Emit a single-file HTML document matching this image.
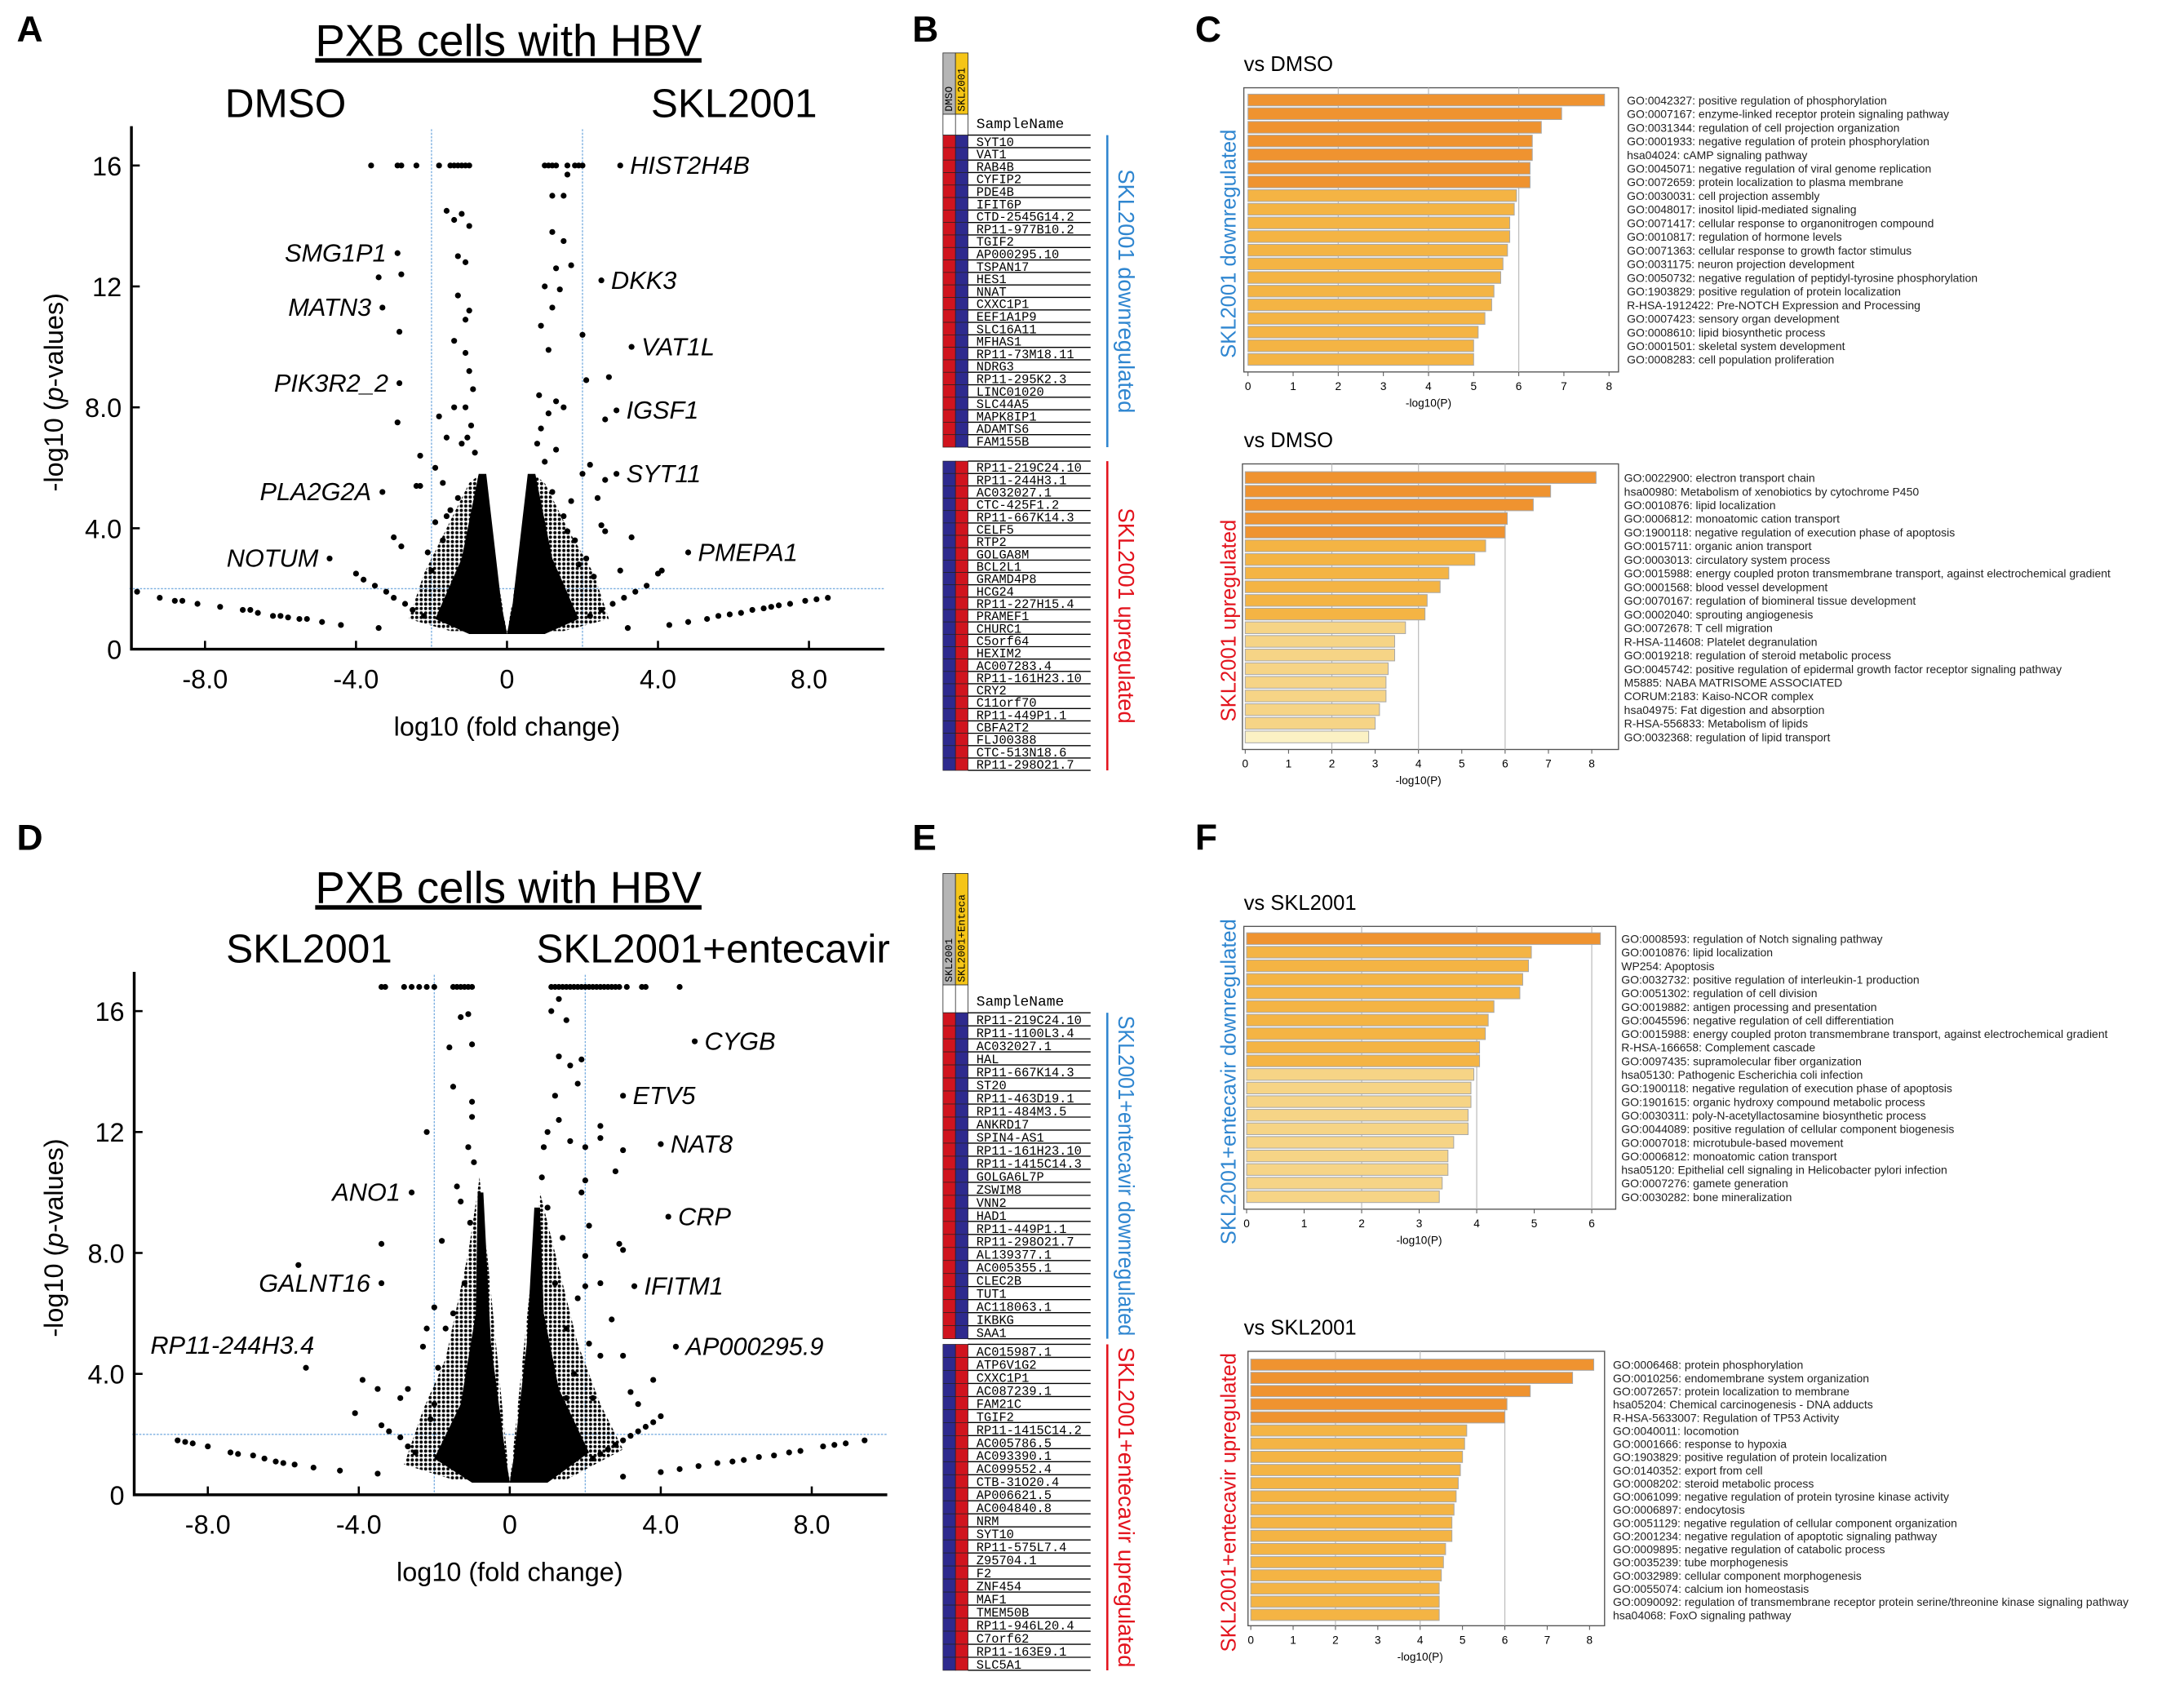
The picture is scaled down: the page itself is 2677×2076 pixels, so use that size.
<!DOCTYPE html>
<html><head><meta charset="utf-8"><style>
html,body{margin:0;padding:0;background:#fff}
svg{display:block}
text{font-family:"Liberation Sans",sans-serif}
.mono{font-family:"Liberation Mono",monospace}
</style></head><body>
<svg id="fig" width="2677" height="2076" viewBox="0 0 1568 1216" preserveAspectRatio="none" xmlns="http://www.w3.org/2000/svg">
<defs><pattern id="speck" width="3.2" height="3.2" patternUnits="userSpaceOnUse"><circle cx="1.6" cy="1.6" r="1.15" fill="#000"/></pattern></defs>
</svg>
<script>
// ---------- Volcano A data ----------
const aLabelNames=["HIST2H4B","SMG1P1","MATN3","PIK3R2_2","PLA2G2A","NOTUM","DKK3","VAT1L","IGSF1","SYT11","PMEPA1"];
const aLabelX=[3.0,-2.9,-3.3,-2.85,-3.3,-4.7,2.5,3.3,2.9,2.9,4.8];
const aLabelY=[16.0,13.1,11.3,8.8,5.2,3.0,12.2,10.0,7.9,5.8,3.2];
const aPtsX=[-3.6,-2.9,-2.8,-2.4,-1.8,-1.5,-1.4,-1.3,-1.2,-1.1,-1.0,1.0,1.1,1.2,1.3,1.6,1.8,1.9,2.0,
-3.4,-2.8,-2.85,-2.9,-2.3,-2.4,-2.3,-3.0,-2.8,-1.6,-1.2,-1.0,-1.4,-1.3,-1.1,-1.3,-1.0,-1.1,-1.4,-1.1,
1.2,1.5,1.6,1.2,1.5,1.7,1.3,1.0,1.4,1.2,0.9,1.1,2.0,2.1,2.7,2.6,1.5,1.3,-1.8,-1.4,-1.6,-1.9,-1.7,
2.2,2.0,2.6,2.4,2.5,2.6,3.3,3.0,3.2,
-9.8,-9.2,-8.8,-8.6,-8.2,-7.6,-7.0,-6.8,-6.6,-6.2,-6.0,-5.8,-5.5,-5.3,-4.9,-4.4,-3.4,
-4.0,-3.8,-3.5,-3.2,-3.0,-2.7,-2.5,-2.2,
4.3,4.8,5.3,5.6,5.9,6.2,6.5,6.8,7.0,7.2,7.5,7.9,8.2,8.5,
2.2,2.5,2.8,3.1,3.4,3.7,4.0,4.1,
-1.0,-0.9,-1.1,-0.95,-1.2,-1.5,-1.9,-2.1,-1.3,-1.7,-2.0,-1.6,-0.85,-1.05,
0.9,0.8,1.0,1.2,1.5,1.8,2.1,1.1,1.7,1.3,0.85,1.6,2.3,1.9];
const aPtsY=[16,16,16,16,16,16,16,16,16,16,16,16,16,16,16,16,16,16,16,
12.3,12.4,10.5,7.5,6.4,5.4,5.4,3.7,3.4,14.5,14.4,14.0,14.2,13.0,12.8,11.7,11.2,10.9,10.2,9.8,
15.0,15.0,15.7,13.8,13.5,12.7,12.6,12.0,11.9,11.3,10.7,9.9,10.4,8.9,9.0,7.6,8.0,8.2,7.7,8.0,7.0,6.0,5.5,
6.1,5.8,5.6,5.0,4.1,3.9,3.7,2.6,0.7,
1.9,1.7,1.6,1.6,1.5,1.4,1.3,1.3,1.2,1.1,1.1,1.05,1.0,1.0,0.9,0.8,0.7,
2.5,2.3,2.1,1.9,1.7,1.5,1.3,1.1,
0.8,0.9,1.0,1.1,1.15,1.2,1.3,1.35,1.4,1.45,1.5,1.6,1.65,1.7,
1.1,1.3,1.5,1.7,1.9,2.1,2.5,2.6,
9.2,8.6,8.0,7.4,6.8,4.6,4.2,3.2,5.0,3.6,2.6,4.4,6.5,7.0,
7.3,6.8,6.2,5.2,4.4,3.6,3.0,7.8,4.9,6.6,8.4,3.9,2.4,2.8];
const aCoreX=[-1.9,-1.2,-0.75,-0.55,-0.15,0,0.15,0.55,0.75,1.2,1.9,1.0,-1.0];
const aCoreY=[1.0,3.0,5.8,5.8,1.5,0.5,1.5,5.8,5.8,3.0,1.0,0.5,0.5];
const aHaloX=[-2.6,-2.2,-1.6,-1.0,-0.7,0,0.7,1.0,1.6,2.3,2.7,1.5,-1.5];
const aHaloY=[1.0,2.5,4.0,5.5,5.8,0.5,5.8,5.5,4.0,2.5,1.0,0.6,0.6];
// ---------- Volcano D data ----------
const dLabelNames=["CYGB","ETV5","NAT8","CRP","IFITM1","AP000295.9","ANO1","GALNT16","RP11-244H3.4"];
const dLabelX=[4.9,3.0,4.0,4.2,3.3,4.4,-2.6,-3.4,-5.4];
const dLabelY=[15.0,13.2,11.6,9.2,6.9,4.9,10.0,7.0,4.2];
const dTopX=[-3.4,-3.3,-2.8,-2.6,-2.4,-2.2,-2.0,-1.5,-1.4,-1.3,-1.2,-1.1,-1.0,1.1,1.2,1.3,1.4,1.5,1.6,1.7,1.8,1.9,2.0,2.1,2.2,2.3,2.4,2.5,2.6,2.7,2.8,2.9,3.1,3.5,3.6,4.5];
const dPtsX=[-2.2,-3.4,-5.6,-2.2,-2.0,-1.8,-1.6,-1.5,-1.3,-1.1,-1.0,-1.0,-1.0,-1.1,-1.4,-1.3,-2.3,-2.7,-2.9,
1.1,1.3,1.5,1.3,1.6,1.9,1.8,1.2,1.0,1.3,1.6,2.0,2.4,2.4,2.8,3.0,2.0,1.9,2.1,2.9,3.0,2.0,2.4,2.0,2.7,2.1,2.4,3.0,3.2,3.8,3.4,1.5,-2.1,
-8.8,-8.6,-8.4,-8.0,-7.4,-7.2,-6.8,-6.5,-6.2,-6.0,-5.7,-5.2,-4.5,-3.5,-4.1,-3.9,-3.5,-3.4,-3.2,-2.9,-2.7,-2.5,
3.0,4.0,4.5,5.0,5.5,5.9,6.2,6.6,7.0,7.4,7.7,8.3,8.6,8.9,9.4,
2.2,2.4,2.6,2.8,3.0,3.2,3.4,3.6,3.8,4.0,
-1.2,-1.7,-1.9,-1.5,-2.0,-0.95,-1.05,0.9,1.0,1.2,1.5,1.7,2.2,1.4,1.8,0.85];
const dPtsY=[12.0,8.3,7.6,5.5,6.2,8.4,14.8,13.5,15.8,15.9,14.9,13.0,12.5,11.5,10.2,9.7,4.9,3.5,3.2,
16.0,16.4,15.7,14.5,14.2,14.4,13.6,13.2,12.0,12.4,11.7,11.5,12.2,11.8,10.7,11.4,10.4,10.0,8.9,8.3,8.1,7.9,7.0,6.9,5.8,5.0,4.6,4.6,3.4,3.8,3.0,3.2,2.5,
1.8,1.75,1.7,1.6,1.4,1.35,1.3,1.2,1.1,1.05,1.0,0.9,0.8,0.7,2.7,3.8,3.5,2.3,2.1,1.9,1.6,1.4,
0.6,0.75,0.85,0.95,1.05,1.1,1.15,1.25,1.3,1.4,1.45,1.6,1.65,1.7,1.8,
1.2,1.35,1.5,1.65,1.8,1.95,2.1,2.25,2.4,2.6,
7.0,5.5,4.2,6.0,3.0,11.0,9.0,11.5,9.5,7.0,5.5,4.0,3.2,8.5,6.5,10.5];
const dCoreX=[-2.0,-1.3,-0.9,-0.85,-0.7,-0.5,-0.1,0,0.1,0.45,0.65,0.8,0.9,1.3,2.1,1.0,-1.0];
const dCoreY=[1.2,3.0,6.0,10.0,10.0,5.0,1.2,0.4,1.2,5.0,9.5,9.5,6.0,3.5,1.4,0.4,0.4];
const dHaloX=[-2.8,-2.3,-1.7,-1.1,-0.8,0,0.8,1.2,1.8,2.4,3.0,1.5,-1.5];
const dHaloY=[1.0,2.8,4.5,8.0,10.5,0.4,10.0,8.0,5.0,3.0,1.5,0.5,0.5];
// ---------- Heatmap gene lists ----------
const bDown=["SYT10","VAT1","RAB4B","CYFIP2","PDE4B","IFIT6P","CTD-2545G14.2","RP11-977B10.2","TGIF2","AP000295.10","TSPAN17","HES1","NNAT","CXXC1P1","EEF1A1P9","SLC16A11","MFHAS1","RP11-73M18.11","NDRG3","RP11-295K2.3","LINC01020","SLC44A5","MAPK8IP1","ADAMTS6","FAM155B"];
const bUp=["RP11-219C24.10","RP11-244H3.1","AC032027.1","CTC-425F1.2","RP11-667K14.3","CELF5","RTP2","GOLGA8M","BCL2L1","GRAMD4P8","HCG24","RP11-227H15.4","PRAMEF1","CHURC1","C5orf64","HEXIM2","AC007283.4","RP11-161H23.10","CRY2","C11orf70","RP11-449P1.1","CBFA2T2","FLJ00388","CTC-513N18.6","RP11-298O21.7"];
const eDown=["RP11-219C24.10","RP11-1100L3.4","AC032027.1","HAL","RP11-667K14.3","ST20","RP11-463D19.1","RP11-484M3.5","ANKRD17","SPIN4-AS1","RP11-161H23.10","RP11-1415C14.3","GOLGA6L7P","ZSWIM8","VNN2","HAD1","RP11-449P1.1","RP11-298O21.7","AL139377.1","AC005355.1","CLEC2B","TUT1","AC118063.1","IKBKG","SAA1"];
const eUp=["AC015987.1","ATP6V1G2","CXXC1P1","AC087239.1","FAM21C","TGIF2","RP11-1415C14.2","AC005786.5","AC093390.1","AC099552.4","CTB-31O20.4","AP006621.5","AC004840.8","NRM","SYT10","RP11-575L7.4","Z95704.1","F2","ZNF454","MAF1","TMEM50B","RP11-946L20.4","C7orf62","RP11-163E9.1","SLC5A1"];
// ---------- Enrichment bar data ----------
const c1Terms=["GO:0042327: positive regulation of phosphorylation","GO:0007167: enzyme-linked receptor protein signaling pathway","GO:0031344: regulation of cell projection organization","GO:0001933: negative regulation of protein phosphorylation","hsa04024: cAMP signaling pathway","GO:0045071: negative regulation of viral genome replication","GO:0072659: protein localization to plasma membrane","GO:0030031: cell projection assembly","GO:0048017: inositol lipid-mediated signaling","GO:0071417: cellular response to organonitrogen compound","GO:0010817: regulation of hormone levels","GO:0071363: cellular response to growth factor stimulus","GO:0031175: neuron projection development","GO:0050732: negative regulation of peptidyl-tyrosine phosphorylation","GO:1903829: positive regulation of protein localization","R-HSA-1912422: Pre-NOTCH Expression and Processing","GO:0007423: sensory organ development","GO:0008610: lipid biosynthetic process","GO:0001501: skeletal system development","GO:0008283: cell population proliferation"];
const c1Vals=[7.9,6.95,6.5,6.3,6.3,6.25,6.25,5.95,5.9,5.8,5.8,5.75,5.65,5.6,5.45,5.4,5.25,5.1,5.0,5.0];
const c1Tier=[0,0,0,0,0,0,0,1,1,1,1,1,1,1,1,1,1,1,1,1];
const c2Terms=["GO:0022900: electron transport chain","hsa00980: Metabolism of xenobiotics by cytochrome P450","GO:0010876: lipid localization","GO:0006812: monoatomic cation transport","GO:1900118: negative regulation of execution phase of apoptosis","GO:0015711: organic anion transport","GO:0003013: circulatory system process","GO:0015988: energy coupled proton transmembrane transport, against electrochemical gradient","GO:0001568: blood vessel development","GO:0070167: regulation of biomineral tissue development","GO:0002040: sprouting angiogenesis","GO:0072678: T cell migration","R-HSA-114608: Platelet degranulation","GO:0019218: regulation of steroid metabolic process","GO:0045742: positive regulation of epidermal growth factor receptor signaling pathway","M5885: NABA MATRISOME ASSOCIATED","CORUM:2183: Kaiso-NCOR complex","hsa04975: Fat digestion and absorption","R-HSA-556833: Metabolism of lipids","GO:0032368: regulation of lipid transport"];
const c2Vals=[8.1,7.05,6.65,6.05,6.0,5.55,5.3,4.7,4.5,4.2,4.15,3.7,3.45,3.45,3.3,3.25,3.25,3.1,3.0,2.85];
const c2Tier=[0,0,0,0,0,1,1,1,1,1,1,2,2,2,2,2,2,2,2,3];
const f1Terms=["GO:0008593: regulation of Notch signaling pathway","GO:0010876: lipid localization","WP254: Apoptosis","GO:0032732: positive regulation of interleukin-1 production","GO:0051302: regulation of cell division","GO:0019882: antigen processing and presentation","GO:0045596: negative regulation of cell differentiation","GO:0015988: energy coupled proton transmembrane transport, against electrochemical gradient","R-HSA-166658: Complement cascade","GO:0097435: supramolecular fiber organization","hsa05130: Pathogenic Escherichia coli infection","GO:1900118: negative regulation of execution phase of apoptosis","GO:1901615: organic hydroxy compound metabolic process","GO:0030311: poly-N-acetyllactosamine biosynthetic process","GO:0044089: positive regulation of cellular component biogenesis","GO:0007018: microtubule-based movement","GO:0006812: monoatomic cation transport","hsa05120: Epithelial cell signaling in Helicobacter pylori infection","GO:0007276: gamete generation","GO:0030282: bone mineralization"];
const f1Vals=[6.15,4.95,4.9,4.8,4.75,4.3,4.2,4.15,4.05,4.05,3.95,3.9,3.9,3.85,3.85,3.6,3.5,3.5,3.4,3.35];
const f1Tier=[0,1,1,1,1,1,1,1,1,1,2,2,2,2,2,2,2,2,2,2];
const f2Terms=["GO:0006468: protein phosphorylation","GO:0010256: endomembrane system organization","GO:0072657: protein localization to membrane","hsa05204: Chemical carcinogenesis - DNA adducts","R-HSA-5633007: Regulation of TP53 Activity","GO:0040011: locomotion","GO:0001666: response to hypoxia","GO:1903829: positive regulation of protein localization","GO:0140352: export from cell","GO:0008202: steroid metabolic process","GO:0061099: negative regulation of protein tyrosine kinase activity","GO:0006897: endocytosis","GO:0051129: negative regulation of cellular component organization","GO:2001234: negative regulation of apoptotic signaling pathway","GO:0009895: negative regulation of catabolic process","GO:0035239: tube morphogenesis","GO:0032989: cellular component morphogenesis","GO:0055074: calcium ion homeostasis","GO:0090092: regulation of transmembrane receptor protein serine/threonine kinase signaling pathway","hsa04068: FoxO signaling pathway"];
const f2Vals=[8.1,7.6,6.6,6.05,6.0,5.1,5.05,5.0,4.95,4.9,4.85,4.8,4.75,4.75,4.6,4.55,4.5,4.45,4.45,4.45];
const f2Tier=[0,0,0,0,0,1,1,1,1,1,1,1,1,1,1,1,1,1,1,1];

const NS="http://www.w3.org/2000/svg";
const svg=document.getElementById('fig');
function mk(tag,attrs,parent,txt){const e=document.createElementNS(NS,tag);for(const k in attrs)e.setAttribute(k,attrs[k]);if(txt!==undefined)e.textContent=txt;(parent||svg).appendChild(e);return e;}

[["A",12,30],["B",655,30],["C",858,30],["D",12,610],["E",655,610],["F",858,610]].forEach(p=>{
  const t=mk('text',{x:p[1],y:p[2],'font-size':26,'font-weight':'bold'},svg,p[0]);
  
  
});

function volcano(cfg){
  const g=mk('g',{});
  
  
  const x0=cfg.x0,y0=cfg.y0,kx=27.1,ky=21.7;
  const xs=v=>x0+v*kx, ys=v=>y0-v*ky;
  const t=mk('text',{x:365,y:cfg.titleY,'font-size':32,'text-anchor':'middle','text-decoration':'underline'},g,'PXB cells with HBV');
  
  
  const s1=mk('text',{x:cfg.sub1x,y:cfg.subY,'font-size':29,'text-anchor':'middle'},g,cfg.sub1);
  
  
  const s2=mk('text',{x:cfg.sub2x,y:cfg.subY,'font-size':29,'text-anchor':'middle'},g,cfg.sub2);
  
  
  [-2,2].forEach(v=>{const l=mk('line',{x1:xs(v),x2:xs(v),y1:ys(17.2),y2:y0,stroke:'#7aaee0','stroke-width':0.8,'stroke-dasharray':'1.5,1'},g);
    
    });
  const hl=mk('line',{x1:xs(-10),x2:xs(10),y1:ys(2),y2:ys(2),stroke:'#7aaee0','stroke-width':0.8,'stroke-dasharray':'1.5,1'},g);
  
  
  const path=(X,Y)=>{let d='';X.forEach((v,i)=>{d+=(i?'L':'M')+xs(v)+','+ys(Y[i]);});return d+'Z';};
  const halo=mk('path',{d:path(cfg.haloX,cfg.haloY),fill:'url(#speck)'},g);
  
  
  const core=mk('path',{d:path(cfg.coreX,cfg.coreY),fill:'#000'},g);
  
  
  const pts=[];
  cfg.px.forEach((v,i)=>pts.push([v,cfg.py[i]]));
  if(cfg.topX)cfg.topX.forEach(v=>pts.push([v,cfg.topY]));
  pts.forEach(p=>{const c=mk('circle',{cx:xs(p[0]),cy:ys(p[1]),r:2.1,fill:'#000'},g);
    
    });
  cfg.lx.forEach((v,i)=>{
    const c=mk('circle',{cx:xs(v),cy:ys(cfg.ly[i]),r:2.1,fill:'#000'},g);
    
    
    const left=v<0;
    const far=v<-5;
    const tx=mk('text',{x:xs(v)+(far?6:(left?-8:7)),y:ys(cfg.ly[i])+(far?-10:6),'font-size':18,'font-style':'italic','text-anchor':left?'end':'start'},g,cfg.ln[i]);
    
    
  });
  const ax=mk('path',{d:`M${xs(-9.95)},${ys(17.3)}V${y0}H${xs(10)}`,fill:'none',stroke:'#000','stroke-width':2},g);
  
  
  [-8,-4,0,4,8].forEach(v=>{
    mk('line',{x1:xs(v),x2:xs(v),y1:y0,y2:y0-6,stroke:'#000','stroke-width':1.5},g);
    const tl=mk('text',{x:xs(v),y:y0+28,'font-size':19,'text-anchor':'middle'},g,v===0?'0':v.toFixed(1));
    
    
  });
  [[0,'0'],[4,'4.0'],[8,'8.0'],[12,'12'],[16,'16']].forEach(p=>{
    mk('line',{x1:xs(-9.95),x2:xs(-9.95)+6,y1:ys(p[0]),y2:ys(p[0]),stroke:'#000','stroke-width':1.5},g);
    const tl=mk('text',{x:xs(-9.95)-7,y:ys(p[0])+7,'font-size':19,'text-anchor':'end'},g,p[1]);
    
    
  });
  const xt=mk('text',{x:xs(0),y:y0+62,'font-size':19,'text-anchor':'middle'},g,'log10 (fold change)');
  
  
  const yt=mk('text',{x:0,y:0,'font-size':19,'text-anchor':'middle',transform:`translate(45,${ys(8.5)}) rotate(-90)`},g);
  
  
  mk('tspan',{},yt,'-log10 (');mk('tspan',{'font-style':'italic'},yt,'p');mk('tspan',{},yt,'-values)');
}
volcano({name:'volcano-a',x0:364,y0:466,titleY:40,subY:84,sub1:'DMSO',sub1x:205,sub2:'SKL2001',sub2x:527,
  px:aPtsX,py:aPtsY,coreX:aCoreX,coreY:aCoreY,haloX:aHaloX,haloY:aHaloY,lx:aLabelX,ly:aLabelY,ln:aLabelNames});
volcano({name:'volcano-d',x0:366,y0:1073,titleY:648,subY:691,sub1:'SKL2001',sub1x:222,sub2:'SKL2001+entecavir',sub2x:512,
  px:dPtsX,py:dPtsY,topX:dTopX,topY:16.8,coreX:dCoreX,coreY:dCoreY,haloX:dHaloX,haloY:dHaloY,lx:dLabelX,ly:dLabelY,ln:dLabelNames});

function heat(cfg){
  const g=mk('g',{});
  
  
  const X=677,W=9;
  mk('rect',{x:X,y:cfg.hy,width:W,height:cfg.hh,fill:'#b5b5b5',stroke:'#333','stroke-width':0.5},g);
  mk('rect',{x:X+W,y:cfg.hy,width:W,height:cfg.hh,fill:'#f5c518',stroke:'#333','stroke-width':0.5},g);
  mk('rect',{x:X,y:cfg.hy+cfg.hh,width:2*W,height:cfg.wy-cfg.hy-cfg.hh,fill:'#fff',stroke:'#333','stroke-width':0.5},g);
  mk('line',{x1:X+W,x2:X+W,y1:cfg.hy+cfg.hh,y2:cfg.wy,stroke:'#333','stroke-width':0.5},g);
  [[cfg.h1,X+6.5],[cfg.h2,X+W+6.5]].forEach(p=>{
    const t=mk('text',{x:0,y:0,'font-size':7.5,'text-anchor':'start',class:'mono',transform:`translate(${p[1]},${cfg.hy+cfg.hh-2}) rotate(-90)`},g,p[0]);
    
    
  });
  const sn=mk('text',{x:701,y:cfg.wy-5,'font-size':10.5,class:'mono'},g,'SampleName');
  
  
  cfg.blocks.forEach(b=>{
    const rh=(b.y1-b.y0)/b.genes.length;
    b.genes.forEach((gn,i)=>{
      const y=b.y0+i*rh;
      const c1=mk('rect',{x:X,y:y,width:W,height:rh,fill:b.c[0],stroke:'#222','stroke-width':0.4},g);
      
      
      const c2=mk('rect',{x:X+W,y:y,width:W,height:rh,fill:b.c[1],stroke:'#222','stroke-width':0.4},g);
      
      
      mk('line',{x1:X+2*W,x2:783,y1:y+rh,y2:y+rh,stroke:'#000','stroke-width':0.8},g);
      const t=mk('text',{x:701,y:y+rh-1.2,'font-size':9,class:'mono'},g,gn);
      
      
    });
    mk('line',{x1:X+2*W,x2:783,y1:b.y0,y2:b.y0,stroke:'#000','stroke-width':0.8},g);
    const bl=mk('line',{x1:795,x2:795,y1:b.y0,y2:b.y1,stroke:b.lc,'stroke-width':1.5},g);
    
    
    const attrs={x:0,y:0,'font-size':16,fill:b.lc,'text-anchor':'middle',transform:`translate(803,${(b.y0+b.y1)/2}) rotate(90)`};
    if(b.fit){attrs.textLength=b.y1-b.y0-4;attrs.lengthAdjust='spacingAndGlyphs';}
    const lt=mk('text',attrs,g,b.label);
    
    
  });
}
const RED='#d0141e',BLUE='#2e2a8e',LB='#2f86d0',LR='#e3141e';
heat({name:'heatmap-b',hy:38,hh:44,wy:97,h1:'DMSO',h2:'SKL2001',
  blocks:[{genes:bDown,y0:97,y1:321,c:[RED,BLUE],lc:LB,label:'SKL2001 downregulated'},
          {genes:bUp,y0:331,y1:553,c:[BLUE,RED],lc:LR,label:'SKL2001 upregulated'}]});
heat({name:'heatmap-e',hy:627,hh:80,wy:727,h1:'SKL2001',h2:'SKL2001+Enteca',
  blocks:[{genes:eDown,y0:727,y1:961,c:[RED,BLUE],lc:LB,label:'SKL2001+entecavir downregulated',fit:true},
          {genes:eUp,y0:965,y1:1199,c:[BLUE,RED],lc:LR,label:'SKL2001+entecavir upregulated',fit:true}]});

const TIERS=['#ef9330','#f4b444','#f6d486','#fbf1c4'];
function bars(cfg){
  const g=mk('g',{});
  
  
  const xs=v=>cfg.x0+v*cfg.k;
  const tt=mk('text',{x:893,y:cfg.titleY,'font-size':15},g,cfg.title);
  
  
  mk('rect',{x:cfg.bx0,y:cfg.by0,width:cfg.bx1-cfg.bx0,height:cfg.by1-cfg.by0,fill:'#fff',stroke:'#555','stroke-width':0.8},g);
  cfg.grid.forEach(v=>mk('line',{x1:xs(v),x2:xs(v),y1:cfg.by0,y2:cfg.by1,stroke:'#bbb','stroke-width':0.7},g));
  const step=(cfg.barsEnd-cfg.barsStart)/cfg.vals.length;
  cfg.vals.forEach((v,i)=>{
    const y=cfg.barsStart+i*step;
    const r=mk('rect',{x:xs(0),y:y+0.6,width:xs(v)-xs(0),height:step-1.4,fill:TIERS[cfg.tier[i]],stroke:'#a8a8a8','stroke-width':0.6},g);
    
    
    const t=mk('text',{x:cfg.lx,y:y+step/2+3,'font-size':8.2,fill:'#222'},g,cfg.terms[i]);
    
    
  });
  for(let v=0;v<=cfg.max;v++){
    mk('line',{x1:xs(v),x2:xs(v),y1:cfg.by1,y2:cfg.by1+3,stroke:'#555','stroke-width':0.6},g);
    const tl=mk('text',{x:xs(v),y:cfg.by1+13,'font-size':8,'text-anchor':'middle'},g,String(v));
    
    
  }
  const xl=mk('text',{x:xs(cfg.max/2),y:cfg.by1+25,'font-size':8,'text-anchor':'middle'},g,'-log10(P)');
  
  
  const yl=mk('text',{x:0,y:0,'font-size':15,fill:cfg.color,'text-anchor':'middle',transform:`translate(887,${(cfg.by0+cfg.by1+20)/2}) rotate(-90)`},g,cfg.ylabel);
  
  
}
bars({name:'enrichment-c-down',title:'vs DMSO',titleY:51,x0:896,k:32.4,max:8,grid:[2,4,6],bx0:893,bx1:1162,by0:63,by1:267,barsStart:67,barsEnd:263,
  vals:c1Vals,tier:c1Tier,terms:c1Terms,lx:1168,color:LB,ylabel:'SKL2001 downregulated'});
bars({name:'enrichment-c-up',title:'vs DMSO',titleY:321,x0:894,k:31.1,max:8,grid:[2,4,6],bx0:892,bx1:1162,by0:333,by1:538,barsStart:338,barsEnd:534,
  vals:c2Vals,tier:c2Tier,terms:c2Terms,lx:1166,color:LR,ylabel:'SKL2001 upregulated'});
bars({name:'enrichment-f-down',title:'vs SKL2001',titleY:653,x0:895,k:41.3,max:6,grid:[2,4,6],bx0:893,bx1:1160,by0:665,by1:868,barsStart:669,barsEnd:864,
  vals:f1Vals,tier:f1Tier,terms:f1Terms,lx:1164,color:LB,ylabel:'SKL2001+entecavir downregulated'});
bars({name:'enrichment-f-up',title:'vs SKL2001',titleY:958,x0:898,k:30.4,max:8,grid:[2,4,6],bx0:896,bx1:1152,by0:970,by1:1167,barsStart:975,barsEnd:1164,
  vals:f2Vals,tier:f2Tier,terms:f2Terms,lx:1158,color:LR,ylabel:'SKL2001+entecavir upregulated'});
</script>
</body></html>
